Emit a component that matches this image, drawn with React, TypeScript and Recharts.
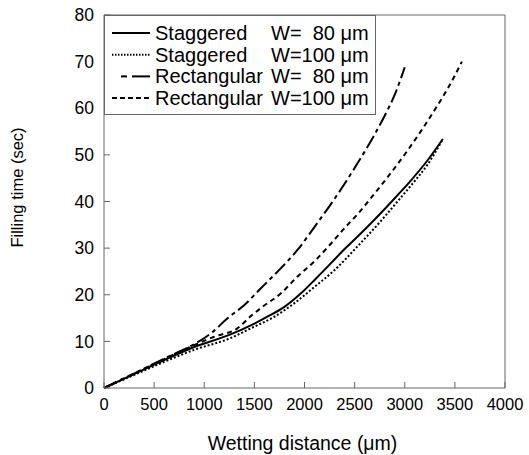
import { Label, Legend, Line, LineChart, XAxis, YAxis } from 'recharts';

const xTicks = [0, 500, 1000, 1500, 2000, 2500, 3000, 3500, 4000];
const yTicks = [0, 10, 20, 30, 40, 50, 60, 70, 80];

// Staggered, W = 80 um (solid)
const stag80X = [0, 300, 600, 900, 1250, 1480, 1630, 1800, 1965, 2115, 2265, 2400, 2530, 2765, 2900, 3065, 3230, 3380];
const stag80Y = [0, 3.0, 6.0, 8.8, 11.4, 13.6, 15.3, 17.4, 20.3, 23.5, 26.8, 29.8, 32.5, 37.6, 40.7, 44.6, 48.9, 53.4];

// Staggered, W = 100 um (dotted)
const stag100X = [0, 300, 600, 915, 1250, 1465, 1700, 1900, 2100, 2300, 2530, 2765, 2900, 3065, 3230, 3370];
const stag100Y = [0, 2.8, 5.6, 8.3, 10.6, 12.8, 15.3, 18.2, 21.7, 25.3, 30.4, 35.9, 39.3, 43.5, 48.0, 53.0];

// Rectangular, W = 80 um (long dash / short dash)
const rect80X = [0, 300, 600, 900, 1065, 1235, 1400, 1565, 1765, 1930, 2115, 2265, 2400, 2500, 2600, 2700, 2800, 2900, 3000];
const rect80Y = [0, 3.1, 6.3, 9.4, 11.7, 15.0, 17.8, 21.4, 25.7, 29.6, 35.0, 39.5, 43.8, 47.2, 50.7, 54.4, 58.4, 62.9, 68.8];

// Rectangular, W = 100 um (short dash)
const rect100X = [0, 300, 600, 900, 1100, 1330, 1480, 1580, 1765, 1930, 2115, 2265, 2400, 2530, 2680, 2850, 3030, 3165, 3315, 3395, 3480, 3570];
const rect100Y = [0, 3.1, 6.2, 9.2, 11.0, 12.8, 15.7, 17.4, 20.3, 23.9, 27.5, 31.0, 34.3, 37.3, 41.2, 45.8, 51.0, 55.2, 60.2, 63.0, 66.2, 70.0];

const toPoints = (xs: number[], ys: number[]) => xs.map((x, i) => ({ x, y: ys[i] }));

const series = [
  { key: 'stag80', name: 'Staggered', width: 'W=  80 μm', data: toPoints(stag80X, stag80Y), dash: undefined, sample: undefined },
  { key: 'stag100', name: 'Staggered', width: 'W=100 μm', data: toPoints(stag100X, stag100Y), dash: '2 2', sample: '1.5 1.5' },
  { key: 'rect80', name: 'Rectangular', width: 'W=  80 μm', data: toPoints(rect80X, rect80Y), dash: '14 4 4 4', sample: undefined },
  { key: 'rect100', name: 'Rectangular', width: 'W=100 μm', data: toPoints(rect100X, rect100Y), dash: '5 4', sample: '5 3' },
];

const FONT = '"Liberation Sans", Arial, sans-serif';
const AXIS = '#666';

function LegendBox() {
  return (
    <svg width={272} height={100} style={{ display: 'block', overflow: 'visible' }}>
      <rect x={0.5} y={0.5} width={271} height={99} fill="#fff" stroke={AXIS} />
      {series.map((s, i) => {
        const base = 25 + i * 21.7;
        return (
          <g key={s.key}>
            {s.key === 'rect80' ? (
              <>
                <line x1={17} x2={23} y1={base - 7} y2={base - 7} stroke="#000" strokeWidth={2} />
                <line x1={28} x2={46} y1={base - 7} y2={base - 7} stroke="#000" strokeWidth={2} />
              </>
            ) : (
              <line x1={8} x2={46} y1={base - 7} y2={base - 7} stroke="#000" strokeWidth={2} strokeDasharray={s.sample} />
            )}
            <text x={51} y={base} fontSize={20} fontFamily={FONT} fill="#000">
              {s.name}
            </text>
            <text x={167} y={base} fontSize={20} fontFamily={FONT} fill="#000" style={{ whiteSpace: 'pre' }}>
              {s.width}
            </text>
          </g>
        );
      })}
    </svg>
  );
}

export default function App() {
  return (
    <div style={{ position: 'absolute', left: 0, top: 0, width: 529, height: 455, background: '#fff' }}>
      <LineChart width={529} height={455} margin={{ top: 14, right: 23, left: 0, bottom: 0 }}>
        <XAxis
          dataKey="x"
          type="number"
          domain={[0, 4000]}
          ticks={xTicks}
          interval={0}
          height={67}
          tickSize={-6}
          tickMargin={16}
          stroke={AXIS}
          tick={{ fontSize: 16.5, fill: '#000', fontFamily: FONT }}
        >
          <Label
            content={({ viewBox }: any) => (
              <text x={viewBox.x + viewBox.width / 2 - 2} y={viewBox.y + 62} textAnchor="middle" fontSize={19.5} fontFamily={FONT} fill="#000">
                Wetting distance (μm)
              </text>
            )}
          />
        </XAxis>
        <XAxis
          xAxisId="top"
          orientation="top"
          type="number"
          domain={[0, 4000]}
          ticks={xTicks}
          interval={0}
          height={1}
          tickSize={-6}
          tickFormatter={() => ''}
          stroke={AXIS}
        />
        <YAxis
          type="number"
          domain={[0, 80]}
          ticks={yTicks}
          interval={0}
          width={104}
          tickSize={-6}
          tickMargin={16}
          stroke={AXIS}
          tick={{ fontSize: 17.5, fill: '#000', fontFamily: FONT }}
        >
          <Label
            content={({ viewBox }: any) => {
              const cx = 23;
              const cy = viewBox.y + viewBox.height / 2 - 14;
              return (
                <text x={cx} y={cy} transform={`rotate(-90 ${cx} ${cy})`} textAnchor="middle" fontSize={16.5} fontFamily={FONT} fill="#000">
                  Filling time (sec)
                </text>
              );
            }}
          />
        </YAxis>
        <YAxis
          yAxisId="right"
          orientation="right"
          type="number"
          domain={[0, 80]}
          ticks={yTicks}
          interval={0}
          width={1}
          tickSize={-6}
          tickFormatter={() => ''}
          stroke={AXIS}
        />
        <Legend
          layout="vertical"
          align="center"
          verticalAlign="middle"
          wrapperStyle={{ left: 104, top: 15, width: 272, height: 100 }}
          content={() => <LegendBox />}
        />
        {series.map((s) => (
          <Line
            key={s.key}
            data={s.data}
            dataKey="y"
            name={`${s.name} ${s.width}`}
            type="monotone"
            stroke="#000"
            strokeWidth={2}
            strokeDasharray={s.dash}
            dot={false}
            activeDot={false}
            isAnimationActive={false}
          />
        ))}
      </LineChart>
    </div>
  );
}
